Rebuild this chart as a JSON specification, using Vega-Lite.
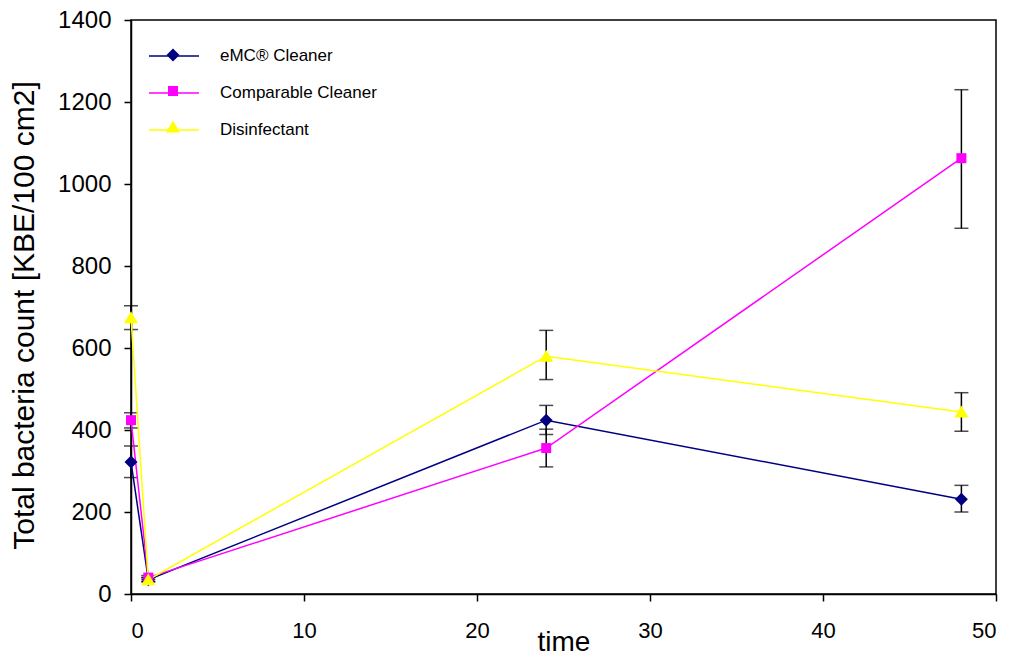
{
  "$schema": "https://vega.github.io/schema/vega-lite/v6.json",
  "autosize": {"type": "none"},
  "width": 865,
  "height": 574,
  "padding": {"left": 131, "top": 20, "right": 17, "bottom": 60},
  "background": "white",
  "config": {
    "view": {"stroke": "black", "strokeWidth": 1.5},
    "font": "Liberation Sans",
    "axis": {"grid": false, "domainColor": "black", "tickColor": "black", "domainWidth": 1.5, "tickWidth": 1.5, "labelColor": "black", "titleColor": "black", "titleFontWeight": "normal", "labelFont": "Liberation Sans", "titleFont": "Liberation Sans"},
    "legend": {"labelFont": "Liberation Sans", "labelLimit": 0}
  },
  "data": {
    "values": [
      {"series": "eMC® Cleaner", "time": 0, "value": 322, "lo": 284, "hi": 361},
      {"series": "eMC® Cleaner", "time": 1, "value": 35, "lo": 30, "hi": 40},
      {"series": "eMC® Cleaner", "time": 24, "value": 424, "lo": 389, "hi": 460},
      {"series": "eMC® Cleaner", "time": 48, "value": 231, "lo": 200, "hi": 265},
      {"series": "Comparable Cleaner", "time": 0, "value": 424, "lo": 405, "hi": 442},
      {"series": "Comparable Cleaner", "time": 1, "value": 40, "lo": 35, "hi": 45},
      {"series": "Comparable Cleaner", "time": 24, "value": 356, "lo": 310, "hi": 402},
      {"series": "Comparable Cleaner", "time": 48, "value": 1063, "lo": 892, "hi": 1230},
      {"series": "Disinfectant", "time": 0, "value": 674, "lo": 645, "hi": 703},
      {"series": "Disinfectant", "time": 1, "value": 35, "lo": 30, "hi": 40},
      {"series": "Disinfectant", "time": 24, "value": 580, "lo": 523, "hi": 643},
      {"series": "Disinfectant", "time": 48, "value": 444, "lo": 397, "hi": 491}
    ]
  },
  "encoding": {
    "x": {"field": "time", "type": "quantitative", "scale": {"domain": [0, 50], "nice": false},
      "axis": {"values": [0, 10, 20, 30, 40, 50], "title": "time", "labelFontSize": 22, "tickSize": 7, "labelPadding": 19, "titleFontSize": 28, "titleBaseline": "alphabetic", "titleY": 56}}
  },
  "layer": [
    {
      "mark": {"type": "rule", "color": "black", "strokeWidth": 1.5},
      "encoding": {
        "y": {"field": "lo", "type": "quantitative", "scale": {"domain": [0, 1400], "nice": false},
          "axis": {"values": [0, 200, 400, 600, 800, 1000, 1200, 1400], "format": "d", "title": "Total bacteria count [KBE/100 cm2]", "labelFontSize": 24, "tickSize": 7, "labelPadding": 13, "titleFontSize": 30, "titleBaseline": "alphabetic", "titleX": -98, "titleY": 295}},
        "y2": {"field": "hi"}
      }
    },
    {
      "mark": {"type": "tick", "orient": "horizontal", "color": "black", "size": 14, "thickness": 1.5},
      "encoding": {"y": {"field": "lo", "type": "quantitative"}}
    },
    {
      "mark": {"type": "tick", "orient": "horizontal", "color": "black", "size": 14, "thickness": 1.5},
      "encoding": {"y": {"field": "hi", "type": "quantitative"}}
    },
    {
      "mark": {"type": "line", "strokeWidth": 1.5},
      "encoding": {
        "y": {"field": "value", "type": "quantitative"},
        "stroke": {"field": "series", "type": "nominal",
          "scale": {"domain": ["eMC® Cleaner", "Comparable Cleaner", "Disinfectant"], "range": ["#000080", "#FF00FF", "#FFFF00"]},
          "legend": {"orient": "none", "legendX": 32, "legendY": 25, "title": null, "symbolType": "M-2.5,0H2.5", "symbolSize": 400, "symbolStrokeWidth": 1.5, "labelFontSize": 17, "labelColor": "black", "labelOffset": 35, "rowPadding": 18, "padding": 0}}
      }
    },
    {
      "mark": {"type": "point", "filled": true, "opacity": 1, "size": 400, "strokeWidth": 0},
      "encoding": {
        "y": {"field": "value", "type": "quantitative"},
        "fill": {"field": "series", "type": "nominal",
          "scale": {"domain": ["eMC® Cleaner", "Comparable Cleaner", "Disinfectant", "-"], "range": ["#000080", "#FF00FF", "#FFFF00", "#000000"]},
          "legend": {"orient": "none", "legendX": 32, "legendY": 25, "title": null, "values": ["eMC® Cleaner", "Comparable Cleaner", "Disinfectant"], "symbolSize": 400, "symbolStrokeWidth": 0, "symbolOpacity": 1, "labelFontSize": 17, "labelExpr": "''", "labelOffset": 35, "rowPadding": 18, "padding": 0}},
        "shape": {"field": "series", "type": "nominal",
          "scale": {"domain": ["eMC® Cleaner", "Comparable Cleaner", "Disinfectant", "-"], "range": ["M0,-0.65L0.65,0L0,0.65L-0.65,0Z", "M-0.5,-0.5H0.5V0.5H-0.5Z", "M0,-0.65L0.7,0.55H-0.7Z", "circle"]},
          "legend": {"orient": "none", "legendX": 32, "legendY": 25, "title": null, "values": ["eMC® Cleaner", "Comparable Cleaner", "Disinfectant"], "symbolSize": 400, "symbolStrokeWidth": 0, "symbolOpacity": 1, "labelFontSize": 17, "labelExpr": "''", "labelOffset": 35, "rowPadding": 18, "padding": 0}}
      }
    }
  ]
}
